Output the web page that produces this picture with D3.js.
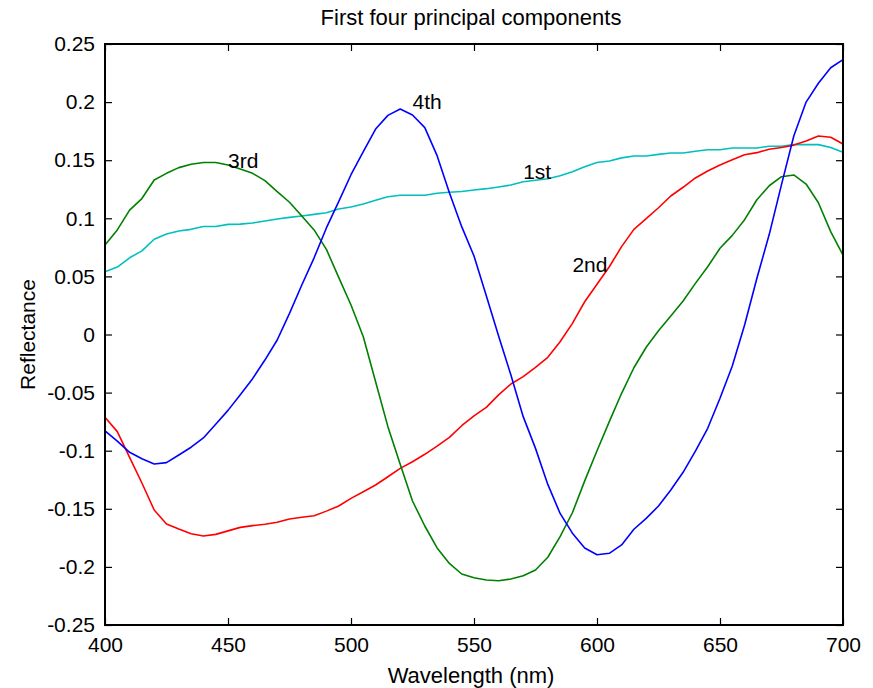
<!DOCTYPE html>
<html>
<head>
<meta charset="utf-8">
<script src="https://cdn.jsdelivr.net/npm/d3@7"></script>
<style>
  html, body { margin: 0; padding: 0; background: #fff; }
  text { font-family: "Liberation Sans", Arial, Helvetica, sans-serif; }
</style>
</head>
<body>
<svg id="chart" width="873" height="688"></svg>
<script>
const wavelengths = d3.range(400, 701, 5);
const pc1 = [0.054,0.058,0.066,0.072,0.082,0.0865,0.089,0.0905,0.093,0.093,0.0948,0.095,0.096,0.0977,0.0994,0.1008,0.102,0.1034,0.1048,0.108,0.1097,0.1123,0.1155,0.1186,0.1198,0.1198,0.1198,0.1215,0.1224,0.123,0.1244,0.1255,0.127,0.1287,0.1315,0.1327,0.134,0.1367,0.140,0.1444,0.148,0.1493,0.152,0.1536,0.1536,0.155,0.1562,0.1562,0.1577,0.159,0.159,0.1605,0.1605,0.1605,0.162,0.162,0.1634,0.1634,0.1634,0.161,0.1568];
const pc2 = [-0.0713,-0.0836,-0.1057,-0.1278,-0.151,-0.163,-0.1674,-0.1714,-0.1734,-0.172,-0.169,-0.166,-0.1645,-0.1633,-0.1616,-0.1588,-0.1573,-0.156,-0.152,-0.1476,-0.141,-0.1353,-0.1295,-0.1224,-0.1152,-0.1095,-0.1031,-0.096,-0.0885,-0.0785,-0.0701,-0.0627,-0.052,-0.0426,-0.0363,-0.0283,-0.0196,-0.0062,0.0096,0.0282,0.0432,0.0583,0.0756,0.0905,0.0997,0.1091,0.1192,0.1267,0.1347,0.1407,0.1459,0.1504,0.1547,0.1565,0.1594,0.161,0.163,0.1665,0.1708,0.1697,0.164];
const pc3 = [0.077,0.090,0.107,0.117,0.133,0.1387,0.1436,0.1465,0.148,0.148,0.1459,0.1424,0.1387,0.1324,0.123,0.1138,0.102,0.090,0.0733,0.0492,0.0254,-0.0019,-0.0406,-0.0793,-0.1117,-0.1433,-0.1648,-0.1837,-0.197,-0.2061,-0.2093,-0.2113,-0.2119,-0.2104,-0.2076,-0.2027,-0.1917,-0.174,-0.1534,-0.126,-0.1,-0.075,-0.0506,-0.0286,-0.011,0.0033,0.0159,0.0288,0.044,0.0583,0.0742,0.0853,0.0988,0.116,0.128,0.1358,0.1373,0.1295,0.1134,0.0885,0.0684];
const pc4 = [-0.083,-0.0917,-0.1014,-0.1069,-0.1114,-0.1103,-0.1037,-0.097,-0.089,-0.0773,-0.0653,-0.0518,-0.038,-0.022,-0.0047,0.0182,0.0426,0.066,0.0917,0.1143,0.1375,0.1573,0.1768,0.1886,0.194,0.1889,0.178,0.1539,0.122,0.0928,0.0676,0.0334,-0.0013,-0.0349,-0.0707,-0.098,-0.129,-0.154,-0.171,-0.1837,-0.1895,-0.1883,-0.1811,-0.1676,-0.1582,-0.1476,-0.1338,-0.1186,-0.1003,-0.0807,-0.0549,-0.0271,0.0082,0.0484,0.086,0.129,0.1708,0.2,0.2162,0.2296,0.2365];
const seriesNames = ["1st", "2nd", "3rd", "4th"];
const seriesColors = ["#00bfbf", "#ff0000", "#008000", "#0000ff"];
const labelX = [570, 590, 450, 525];
const labelY = [0.14, 0.06, 0.15, 0.2];
const xTicks = [400, 450, 500, 550, 600, 650, 700];
const yTicks = [-0.25, -0.2, -0.15, -0.1, -0.05, 0, 0.05, 0.1, 0.15, 0.2, 0.25];
const titleText = "First four principal components";
const xLabelText = "Wavelength (nm)";
const yLabelText = "Reflectance";

const allSeries = [pc1, pc2, pc3, pc4];

const svg = d3.select("#chart");
const L = 105, R = 843, T = 44, B = 625;
const x = d3.scaleLinear().domain([400, 700]).range([L, R]);
const y = d3.scaleLinear().domain([-0.25, 0.25]).range([B, T]);
const fs = 21;

svg.append("rect").attr("width", 873).attr("height", 688).attr("fill", "#fff");

const fmt = d => d === 0 ? "0" : String(d);
const tickLen = 7;
svg.append("g").attr("transform", `translate(0,${B})`)
  .call(d3.axisBottom(x).tickValues(xTicks).tickSize(-tickLen).tickPadding(12).tickFormat(d3.format("d")))
  .call(g => g.select(".domain").remove());
svg.append("g").attr("transform", `translate(0,${T})`)
  .call(d3.axisTop(x).tickValues(xTicks).tickSize(-tickLen).tickFormat(""))
  .call(g => g.select(".domain").remove());
svg.append("g").attr("transform", `translate(${L},0)`)
  .call(d3.axisLeft(y).tickValues(yTicks).tickSize(-tickLen).tickPadding(10).tickFormat(fmt))
  .call(g => g.select(".domain").remove());
svg.append("g").attr("transform", `translate(${R},0)`)
  .call(d3.axisRight(y).tickValues(yTicks).tickSize(-tickLen).tickFormat(""))
  .call(g => g.select(".domain").remove());

svg.selectAll(".tick line").attr("stroke", "#000").attr("stroke-width", 1.2);
svg.selectAll(".tick text").attr("font-size", fs).attr("fill", "#000")
  .attr("font-family", "Liberation Sans, Arial, sans-serif");

const line = d3.line().x((d, i) => x(wavelengths[i])).y(d => y(d));
allSeries.forEach((s, k) => {
  svg.append("path").datum(s).attr("d", line)
    .attr("fill", "none").attr("stroke", seriesColors[k]).attr("stroke-width", 1.6)
    .attr("stroke-linejoin", "round");
});

svg.append("rect").attr("x", L).attr("y", T).attr("width", R - L).attr("height", B - T)
  .attr("fill", "none").attr("stroke", "#000").attr("stroke-width", 2);

seriesNames.forEach((n, k) => {
  svg.append("text").attr("x", x(labelX[k])).attr("y", y(labelY[k]))
    .attr("dy", "0.35em").attr("font-size", fs).attr("fill", "#000").text(n);
});

svg.append("text").attr("x", 471).attr("y", 25).attr("text-anchor", "middle")
  .attr("font-size", 22).attr("fill", "#000").text(titleText);
svg.append("text").attr("x", 471).attr("y", 683).attr("text-anchor", "middle")
  .attr("font-size", 22).attr("fill", "#000").text(xLabelText);
svg.append("text").attr("transform", `translate(35,${(T + B) / 2}) rotate(-90)`)
  .attr("text-anchor", "middle").attr("font-size", fs).attr("fill", "#000").text(yLabelText);
</script>
</body>
</html>
